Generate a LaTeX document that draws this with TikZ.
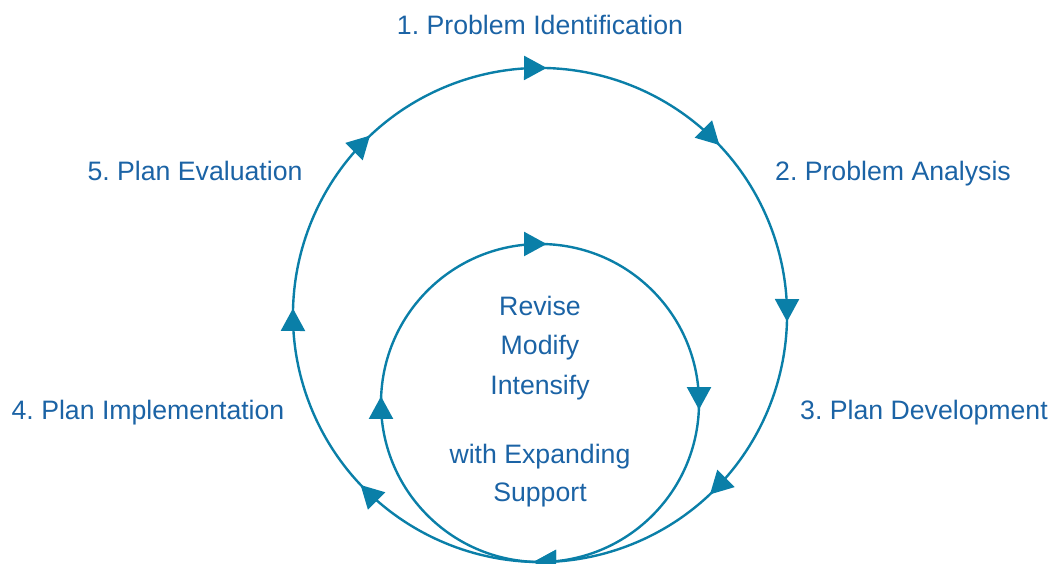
\documentclass[tikz,border=0pt]{standalone}
\usepackage{fontspec}
\setmainfont{Liberation Sans}
\frenchspacing
\usetikzlibrary{arrows.meta,decorations.markings}
\definecolor{cyclecol}{HTML}{0A7FA8}
\definecolor{labelcol}{HTML}{1B63A5}
\tikzset{
	>={Triangle[length=17pt,width=18pt]},
	cycleline/.style={draw=cyclecol,color=cyclecol,line width=1.8pt,postaction={decorate}},
	outerarrows/.style={decoration={markings,mark=between positions 0.0625 and 1 step 0.125 with {\arrow[xshift=5pt]{>}}}},
	innerarrows/.style={decoration={markings,mark=between positions 0.125 and 1 step 0.25 with {\arrow[xshift=5pt]{>}}}},
	stage/.style={text=labelcol,anchor=base,inner sep=0pt,font=\fontsize{20}{24}\selectfont},
	every new ->/.style={shorten >=1pt}
}

\begin{document}
\begin{tikzpicture}[x=0.75pt,y=0.75pt]
            \useasboundingbox (0,0) rectangle (1054,564);
            \coordinate (outer) at (540,249);
            \coordinate (inner) at (540,161);
            % the two cycles, both running clockwise
            \draw[cycleline,outerarrows] ([shift={(112.5:247)}]outer) arc[start angle=112.5,end angle=-247.5,radius=247];
            \draw[cycleline,innerarrows] ([shift={(135:159)}]inner) arc[start angle=135,end angle=-225,radius=159];
            \node[stage] (ident) at (540,529) {1. Problem Identification};
            \node[stage] (anal) at (893,383) {2. Problem Analysis};
            \node[stage] (dev) at (924,144) {3. Plan Development};
            \node[stage] (impl) at (148,144) {4. Plan Implementation};
            \node[stage] (eval) at (195,383) {5. Plan Evaluation};
            \node[stage] (revise) at (540,248) {Revise};
            \node[stage] (modify) at (540,209) {Modify};
            \node[stage] (intens) at (540,169) {Intensify};
            \node[stage] (expand) at (540,100) {with Expanding};
            \node[stage] (support) at (540,62) {Support};
        \end{tikzpicture}
\end{document}
